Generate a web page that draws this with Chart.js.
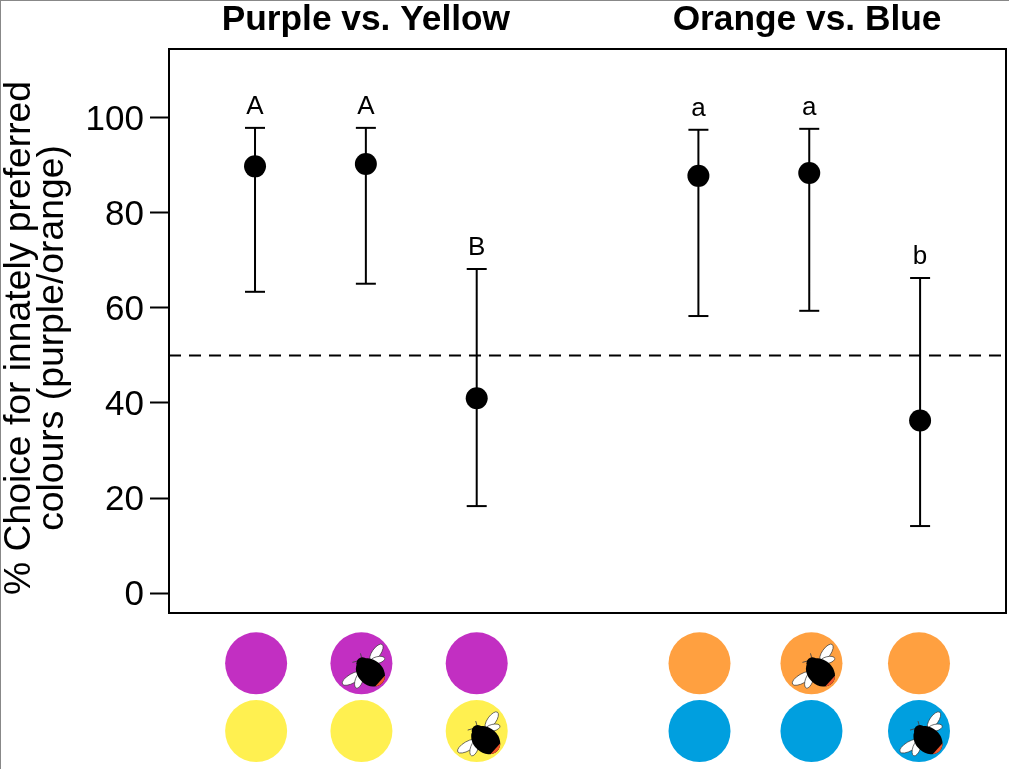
<!DOCTYPE html>
<html><head><meta charset="utf-8">
<style>html,body{margin:0;padding:0;background:#fff}canvas{display:block}</style>
<script src="https://cdn.jsdelivr.net/npm/chart.js@4"></script>
</head><body><canvas id="c" width="1009" height="769"></canvas>
<script>
const positions=[1,2,3,5,6,7];
const means=[89.8,90.3,41,87.8,88.4,36.3];
const uppers=[97.9,97.9,68.2,97.5,97.7,66.3];
const lowers=[63.4,65.1,18.3,58.3,59.4,14.1];
const letters=['A','A','B','a','a','b'];
const yTicks=[0,20,40,60,80,100];
const refLine=50;
const groupTitles=['Purple vs. Yellow','Orange vs. Blue'];
const groupCentres=[2,5.98];
const yTitleLines=['% Choice for innately preferred','colours (purple/orange)'];
const discPositions=[1.01,1.96,3,5.01,6.02,6.99];
const topColours=['#c22fc2','#c22fc2','#c22fc2','#ffa040','#ffa040','#ffa040'];
const bottomColours=['#fff050','#fff050','#fff050','#009fdf','#009fdf','#009fdf'];
const beeRow=['','top','bottom','','top','bottom'];
const xMin=0.224,xMax=7.775,yMin=-4.2,yMax=114.5;
const discTopY=-14.8,discBottomY=-29.05;
const FONT='"Liberation Sans"';

const stems=[];
positions.forEach((x,i)=>{stems.push({x,y:lowers[i]},{x,y:uppers[i]},{x:null,y:null});});

function ell(ctx,x,y,a,b,rot,fill,stroke){
  ctx.beginPath();ctx.ellipse(x,y,a,b,rot*Math.PI/180,0,Math.PI*2);
  ctx.fillStyle=fill;ctx.fill();
  if(stroke){ctx.strokeStyle=stroke;ctx.lineWidth=.7;ctx.stroke();}
}
function bee(ctx,cx,cy){
  ctx.save();ctx.translate(cx,cy);
  ell(ctx,15,-10.7,10,4.3,-55,'#fff','#333');
  ell(ctx,16,-3.3,7.5,3.4,-14,'#fff','#333');
  ell(ctx,-9,15,11.5,4.6,-30,'#fff','#333');
  ell(ctx,-2.3,16.7,8.5,3.8,-70,'#fff','#333');
  ctx.strokeStyle='#444';ctx.lineWidth=.9;
  ctx.beginPath();ctx.moveTo(1,-3);ctx.quadraticCurveTo(-3,-3,-9,-1);ctx.moveTo(1,-3);ctx.lineTo(-1,-10);ctx.stroke();
  ell(ctx,9,9,16,12.5,42,'#000');
  ell(ctx,1,0,6,6,0,'#000');
  ctx.save();
  ctx.beginPath();ctx.ellipse(9,9,16,12.5,42*Math.PI/180,0,Math.PI*2);ctx.clip();
  ctx.translate(9,9);ctx.rotate(42*Math.PI/180);ctx.fillStyle='#f0562a';ctx.fillRect(13,-13,4,26);
  ctx.restore();
  ctx.restore();
}
const decor={
  id:'decor',
  beforeDraw(ch){
    const c=ch.ctx;c.save();
    c.fillStyle='#fff';c.fillRect(0,0,1009,769);
    c.fillStyle='#888';c.fillRect(0,0,1009,1);c.fillRect(0,0,1,769);
    c.restore();
  },
  afterDatasetsDraw(ch){
    const c=ch.ctx,a=ch.chartArea,xs=ch.scales.x,ys=ch.scales.y;
    c.save();
    c.strokeStyle='#000';c.lineWidth=2;c.strokeRect(a.left,a.top,a.right-a.left,a.bottom-a.top);
    c.fillStyle='#000';c.textAlign='center';
    c.font='26px '+FONT;c.textBaseline='alphabetic';
    letters.forEach((l,i)=>c.fillText(l,xs.getPixelForValue(positions[i]),ys.getPixelForValue(uppers[i])-14));
    c.font='bold 35.3px '+FONT;
    groupTitles.forEach((t,i)=>c.fillText(t,xs.getPixelForValue(groupCentres[i]),30));
    c.font='37.3px '+FONT;
    yTitleLines.forEach((t,i)=>{
      c.save();c.translate(i?63:30,338);c.rotate(-Math.PI/2);c.fillText(t,0,0);c.restore();
    });
    discPositions.forEach((p,i)=>{
      const px=xs.getPixelForValue(p);
      [[discTopY,topColours[i]],[discBottomY,bottomColours[i]]].forEach(([v,col])=>{
        c.beginPath();c.arc(px,ys.getPixelForValue(v),31,0,Math.PI*2);c.fillStyle=col;c.fill();
      });
      if(beeRow[i]) bee(c,px,ys.getPixelForValue(beeRow[i]==='top'?discTopY:discBottomY));
    });
    c.restore();
  }
};
new Chart(document.getElementById('c'),{
  type:'scatter',
  plugins:[decor],
  data:{datasets:[
    {data:[{x:xMin,y:refLine},{x:xMax,y:refLine}],showLine:true,borderColor:'#000',borderWidth:2,borderDash:[12,8],pointRadius:0},
    {data:stems,showLine:true,spanGaps:false,borderColor:'#000',borderWidth:2,pointRadius:0},
    {data:positions.map((x,i)=>({x,y:uppers[i]})),pointStyle:'line',pointRadius:10,borderColor:'#000',pointBorderWidth:2},
    {data:positions.map((x,i)=>({x,y:lowers[i]})),pointStyle:'line',pointRadius:10,borderColor:'#000',pointBorderWidth:2},
    {data:positions.map((x,i)=>({x,y:means[i]})),pointRadius:11,backgroundColor:'#000',borderColor:'#000',borderWidth:0}
  ]},
  options:{
    responsive:false,animation:false,devicePixelRatio:1,
    layout:{autoPadding:false,padding:{top:49,right:3,bottom:156,left:0}},
    plugins:{legend:{display:false},tooltip:{enabled:false}},
    scales:{
      x:{type:'linear',display:false,min:xMin,max:xMax},
      y:{type:'linear',min:yMin,max:yMax,
        afterBuildTicks(s){s.ticks=yTicks.map(value=>({value}));},
        afterFit(s){s.width=169;},
        grid:{drawOnChartArea:false,drawTicks:true,tickLength:19,tickWidth:2,tickColor:'#000'},
        border:{display:false},
        ticks:{color:'#000',padding:6,labelOffset:2,font:{family:FONT,size:35},callback:v=>String(v),autoSkip:false,maxRotation:0}
      }
    }
  }
});
</script></body></html>
